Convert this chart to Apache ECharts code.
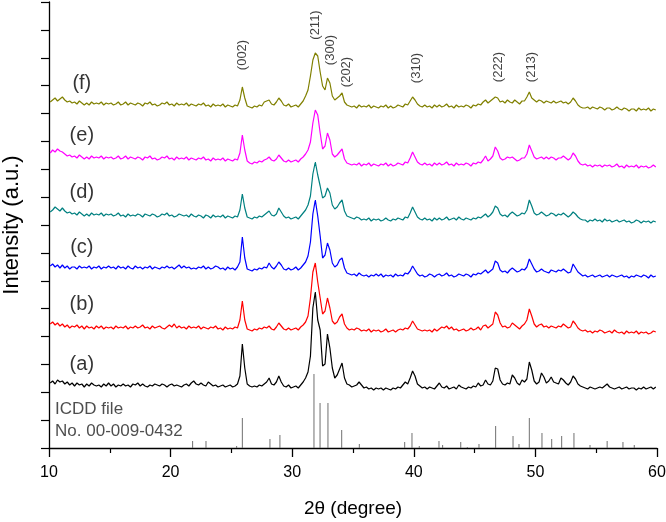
<!DOCTYPE html>
<html><head><meta charset="utf-8">
<script src="https://cdn.jsdelivr.net/npm/echarts@6/dist/echarts.min.js"></script>
<style>html,body{margin:0;padding:0;background:#fff}#c{width:666px;height:522px}</style>
</head><body><div id="c"></div>
<script>
// 2θ sampling: one row per whole degree (10..59), values at d+0.1, d+0.3, d+0.5, d+0.7, d+0.9
const firstDegree = 10;
const subSteps = [0.1, 0.3, 0.5, 0.7, 0.9];

// Offset intensities (a.u.)
const traceA = [
[65,67,64,68,66],[67,64,66,63,65],[62,65,63,64,61],[64,62,65,63,62],[63,61,64,62,65],
[62,64,61,63,62],[64,62,63,61,64],[63,65,62,64,62],[61,63,62,64,63],[62,64,63,61,63],
[64,62,63,62,61],[63,64,62,65,67],[64,63,65,63,62],[66,64,62,63,61],[62,63,61,62,63],
[61,62,64,72,104],[80,64,62,61,62],[61,63,62,64,66],[70,64,63,66,72],[66,62,61,63,60],
[61,62,60,63,66],[70,76,92,140,156],[128,118,82,84,114],[100,80,70,73,79],[85,70,64,63,61],
[62,63,66,63,60],[61,59,60,58,60],[59,60,58,60,59],[58,60,59,61,60],[63,66,64,70,77],
[72,64,62,60,61],[59,61,60,59,62],[65,61,60,62,59],[60,61,59,63,61],[60,59,61,60,62],
[61,65,62,63,68],[64,63,67,80,79],[68,64,63,65,64],[73,70,65,63,68],[66,69,86,78,67],
[64,66,75,71,65],[67,71,66,65,64],[70,68,65,63,66],[72,69,64,62,61],[60,59,61,60,59],
[60,61,60,62,64],[61,60,59,60,61],[59,60,61,59,60],[60,58,60,59,61],[59,60,61,59,61]];
const traceB = [
[124,126,123,125,122],[124,121,123,120,122],[121,123,120,122,119],[122,120,121,119,122],[120,122,119,121,120],
[121,119,122,120,121],[120,122,119,121,120],[122,120,121,123,120],[121,119,122,120,121],[122,120,119,121,123],
[121,124,120,122,120],[121,119,122,120,121],[120,122,119,121,120],[119,121,120,122,119],[120,118,121,119,120],
[119,121,120,128,147],[128,119,118,117,119],[118,120,119,121,120],[122,119,118,121,125],[122,119,118,120,118],
[119,120,118,121,123],[126,132,150,176,185],[166,150,134,137,150],[140,127,124,126,131],[134,124,120,118,119],
[118,120,119,117,118],[117,119,116,118,117],[118,116,117,119,116],[117,118,116,118,119],[118,120,119,122,127],
[123,119,118,117,118],[117,118,116,119,117],[119,121,120,122,119],[121,118,119,117,118],[119,117,118,120,118],
[119,121,118,122,123],[120,122,124,136,133],[125,121,122,120,121],[125,123,121,119,122],[124,128,139,132,124],
[121,123,124,121,122],[120,122,121,120,122],[121,124,122,120,121],[127,124,120,118,117],[118,116,117,115,117],
[116,118,117,115,116],[117,115,118,116,115],[116,114,117,115,116],[115,117,114,116,115],[116,114,115,117,116]];
const traceC = [
[182,184,181,183,180],[183,180,182,179,181],[181,179,182,180,181],[180,182,179,181,180],[182,179,181,180,182],
[180,181,179,182,180],[181,179,182,180,179],[182,180,181,179,181],[180,182,179,181,180],[179,181,180,182,180],
[181,179,181,183,180],[182,180,181,179,180],[179,181,180,182,179],[181,179,180,182,181],[179,180,178,181,179],
[180,178,181,186,211],[190,179,178,177,179],[178,180,179,181,180],[185,181,179,182,186],[183,179,178,180,178],
[179,181,178,180,183],[186,192,206,234,248],[232,212,190,193,205],[198,185,181,183,188],[190,180,175,174,173],
[174,172,175,173,172],[173,171,173,172,174],[172,174,171,173,172],[173,171,174,172,173],[172,175,174,177,182],
[178,174,172,173,171],[172,174,173,171,173],[174,172,173,175,172],[173,171,172,174,173],[172,174,173,171,174],
[173,175,174,176,178],[175,177,179,187,185],[178,176,177,175,178],[180,178,176,177,179],[178,181,189,184,179],
[176,177,179,177,176],[175,178,177,176,178],[177,179,177,175,176],[184,180,176,174,172],[173,171,172,173,171],
[172,173,171,172,173],[171,173,172,171,172],[173,171,172,170,172],[171,173,172,171,173],[172,170,173,171,172]];
const traceD = [
[236,238,241,239,237],[240,237,235,236,234],[235,233,236,234,232],[234,232,235,233,234],[233,235,232,234,233],
[234,232,233,235,232],[233,231,234,232,233],[232,234,233,231,234],[233,232,234,233,231],[232,234,233,235,232],
[233,231,232,234,233],[232,233,231,234,232],[231,233,232,230,233],[232,230,233,231,232],[231,233,230,232,231],
[230,232,231,238,254],[240,231,230,229,231],[230,232,231,233,235],[237,233,232,234,240],[236,232,230,231,229],
[230,231,229,232,235],[238,243,252,274,286],[273,262,250,252,260],[255,243,239,241,245],[248,237,232,231,230],
[229,231,230,228,229],[228,230,227,229,228],[229,227,228,230,228],[227,229,228,230,229],[228,231,230,235,241],
[236,231,229,228,230],[228,229,227,230,228],[230,228,229,231,228],[229,230,228,231,229],[228,230,229,228,230],
[229,231,230,232,234],[231,233,236,242,240],[234,232,233,231,234],[236,234,232,233,235],[234,238,248,242,235],
[233,234,236,234,232],[233,235,234,232,234],[233,235,233,231,233],[236,234,231,229,228],[228,226,228,227,229],
[227,228,226,229,227],[228,226,227,228,226],[227,228,226,227,225],[226,228,227,225,227],[226,227,225,227,226]];
const traceE = [
[295,298,296,299,297],[296,294,292,293,291],[292,290,293,291,289],[291,289,292,290,291],[290,292,289,291,290],
[291,289,290,292,289],[290,292,289,291,290],[289,291,290,288,291],[290,292,289,290,288],[289,291,290,292,289],
[290,288,291,289,290],[289,291,288,290,289],[288,290,289,291,288],[289,287,290,288,289],[288,290,287,289,288],
[287,289,288,295,313],[298,287,285,284,286],[285,287,286,288,289],[291,288,287,289,293],[290,287,286,288,286],
[287,288,286,289,291],[294,298,306,325,338],[333,315,299,302,315],[308,294,291,293,296],[299,289,285,284,283],
[284,283,285,282,284],[283,285,282,284,283],[282,284,283,285,282],[284,282,283,285,284],[283,286,285,290,296],
[291,286,284,283,285],[283,284,282,285,283],[285,283,284,286,283],[284,282,285,283,284],[283,285,284,282,285],
[284,286,285,288,292],[287,289,292,301,297],[290,288,289,291,290],[291,289,287,288,290],[290,294,303,297,291],
[289,290,291,289,291],[289,291,290,288,290],[290,292,290,288,290],[295,292,287,284,283],[284,282,283,281,283],
[282,283,281,283,282],[283,281,282,284,281],[282,280,283,281,282],[281,283,280,282,281],[282,280,281,283,281]];
const traceF = [
[346,348,350,347,349],[351,348,346,347,345],[346,344,347,345,343],[345,343,346,344,345],[344,346,343,345,344],
[345,343,344,346,343],[344,346,343,345,344],[343,345,344,342,345],[344,346,343,344,342],[343,345,344,346,343],
[344,342,345,343,344],[343,345,342,344,343],[342,344,343,345,342],[343,341,344,342,343],[342,344,341,343,342],
[341,343,342,348,361],[350,342,341,340,342],[341,343,342,346,347],[348,344,343,346,350],[347,343,342,344,341],
[342,343,341,344,347],[352,358,372,388,395],[392,376,362,358,370],[365,352,348,350,352],[355,346,343,342,341],
[342,340,343,341,342],[341,343,340,342,341],[340,342,341,343,340],[342,340,341,343,342],[341,344,343,347,351],
[348,344,342,341,343],[341,342,340,343,341],[343,341,342,344,341],[342,340,343,341,342],[341,343,342,340,343],
[342,344,343,346,348],[345,347,349,351,350],[346,347,345,348,346],[345,348,346,344,347],[347,351,356,350,348],
[346,348,347,345,347],[346,345,347,345,346],[347,345,346,344,346],[350,347,343,341,340],[340,341,339,341,340],
[339,341,340,338,340],[340,338,339,341,339],[338,340,339,337,339],[339,337,340,338,339],[338,340,337,339,338]];

// ICDD 00-009-0432 reference lines
const icddTheta  = [21.81,22.91,25.43,25.90,28.17,28.99,31.79,32.29,32.94,34.07,35.52,39.25,39.85,40.45,42.07,42.37,43.86,44.40,45.36,46.73,48.16,48.65,49.50,50.54,51.34,52.16,53.17,54.49,55.90,57.20,58.13];
const icddHeight = [7,7,2,30,9,13,74,45,45,18,4,6,15,2,7,3,6,1,4,22,12,4,30,15,9,12,15,3,7,6,3];

const traceNames  = ['(a)','(b)','(c)','(d)','(e)','(f)'];
const traceColors = ['#000000','#ff0000','#0000ff','#008080','#ff00ff','#808000'];
const traceLabelX = [12.7,12.7,12.7,12.7,12.7,12.7];
const traceLabelY = [84,144,201,256,313,365];

const hklNames = ['(002)','(211)','(300)','(202)','(310)','(222)','(213)'];
const hklTheta = [25.93,31.87,33.17,34.48,40.18,46.92,49.64];
const hklY     = [393,423,398,376,380,381,381];

const icddText  = ['ICDD file','No. 00-009-0432'];
const icddTextX = [10.5,10.5];
const icddTextY = [39,17];

const FONT = '"Liberation Sans", Arial, sans-serif';
const traces = [traceA,traceB,traceC,traceD,traceE,traceF];
function toPairs(rows){
  const out = [];
  rows.forEach((row,i)=>row.forEach((v,j)=>out.push([firstDegree+i+subSteps[j], v])));
  return out;
}

const series = traces.map((t,k)=>({
  type:'line', name:traceNames[k], data:toPairs(t), showSymbol:false, symbol:'none',
  lineStyle:{color:traceColors[k], width:1.2}, itemStyle:{color:traceColors[k]}, silent:true, z:3
}));
series.push({
  type:'bar', name:'ICDD', data:icddTheta.map((x,i)=>[x,icddHeight[i]]),
  barWidth:1, itemStyle:{color:'#707070'}, silent:true, z:2
});
series.push({
  type:'scatter', symbolSize:0, silent:true,
  data:traceNames.map((n,i)=>({value:[traceLabelX[i],traceLabelY[i]], name:n})),
  label:{show:true, position:'inside', formatter:p=>p.name, fontFamily:FONT, fontSize:20, color:'#000'}
});
series.push({
  type:'scatter', symbolSize:0, silent:true,
  data:hklNames.map((n,i)=>({value:[hklTheta[i],hklY[i]], name:n})),
  label:{show:true, position:'inside', rotate:90, formatter:p=>p.name, fontFamily:FONT, fontSize:13, color:'#111'}
});
series.push({
  type:'scatter', symbolSize:0, silent:true,
  data:icddText.map((n,i)=>({value:[icddTextX[i],icddTextY[i]], name:n})),
  label:{show:true, position:'right', distance:0, formatter:p=>p.name, fontFamily:FONT, fontSize:17, color:'#222'}
});

const chart = echarts.init(document.getElementById('c'), null, {renderer:'canvas'});
chart.setOption({
  animation:false,
  backgroundColor:'#fff',
  grid:{left:49,right:9,top:2,bottom:74,containLabel:false,outerBoundsMode:'none'},
  xAxis:{
    type:'value', min:10, max:60, interval:10,
    name:'2θ (degree)', nameLocation:'middle', nameGap:51,
    nameTextStyle:{fontFamily:FONT, fontSize:19, color:'#000'},
    axisLine:{show:true, onZero:false, lineStyle:{color:'#000', width:1.3}},
    axisTick:{show:true, inside:false, length:9, lineStyle:{color:'#000', width:1.3}},
    minorTick:{show:true, splitNumber:2, length:5, lineStyle:{color:'#000', width:1.2}},
    axisLabel:{fontFamily:FONT, fontSize:16, color:'#000', margin:17},
    splitLine:{show:false}
  },
  yAxis:{
    type:'value', min:0, max:446, interval:27.875,
    name:'Intensity (a.u.)', nameLocation:'middle', nameGap:26,
    nameTextStyle:{fontFamily:FONT, fontSize:22, color:'#000'},
    axisLine:{show:true, lineStyle:{color:'#000', width:1.3}},
    axisTick:{show:true, inside:false, length:8, lineStyle:{color:'#000', width:1.2}},
    axisLabel:{show:false},
    splitLine:{show:false}
  },
  series:series
});
</script></body></html>
